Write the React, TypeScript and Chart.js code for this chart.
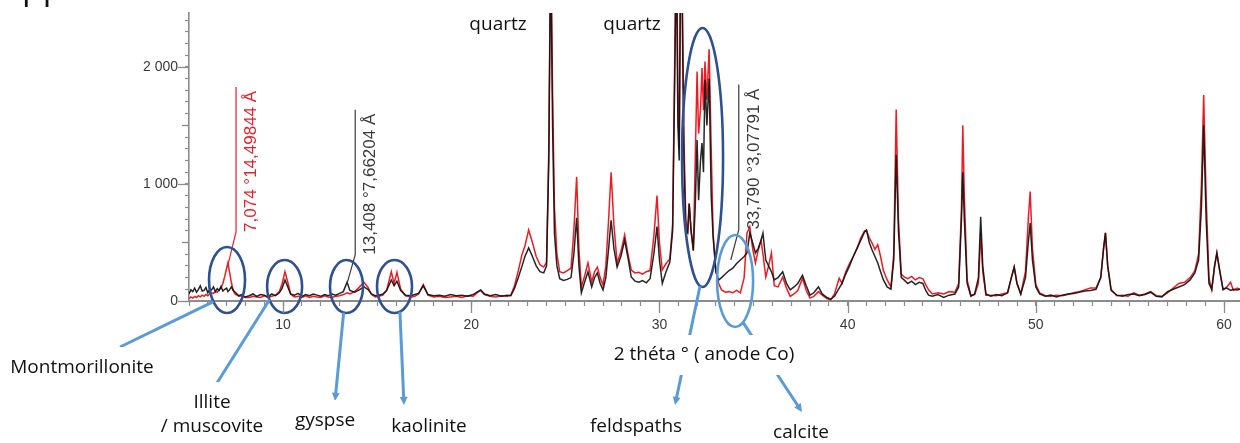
import React, { useEffect, useRef } from 'react';
import { Chart, registerables } from 'chart.js';

Chart.register(...registerables);

// ---------- data (2θ in degrees, intensity in counts) ----------
const twoTheta = [
  5.0, 5.1, 5.2, 5.3, 5.4, 5.5, 5.6, 5.7, 5.8, 5.9, 6.0, 6.1, 6.2, 6.3, 6.4, 6.5, 6.6, 6.7, 6.8, 6.9,
  7.0, 7.07, 7.15, 7.25, 7.35, 7.45, 7.55, 7.65, 7.8, 7.9, 8.0,
  8.2, 8.4, 8.6, 8.8, 9.0, 9.2, 9.4, 9.6, 9.8, 9.95, 10.1, 10.25, 10.4, 10.6, 10.8,
  11.0, 11.2, 11.4, 11.6, 11.8, 12.0, 12.2, 12.4, 12.6, 12.8, 13.0, 13.2, 13.4, 13.55, 13.8,
  14.0, 14.3, 14.5, 14.7, 14.9, 15.1, 15.3, 15.5, 15.75, 15.9, 16.05, 16.25, 16.5, 16.8, 17.0,
  17.2, 17.45, 17.7, 18.0, 18.3, 18.6, 18.9, 19.2, 19.5, 19.8, 20.1, 20.35, 20.5, 20.7, 21.0,
  21.3, 21.6, 21.9,
  22.1, 22.3, 22.5, 22.7, 22.85, 23.05, 23.25, 23.45, 23.65, 23.85, 24.0, 24.12, 24.22, 24.32, 24.42,
  24.55, 24.7, 24.9, 25.1, 25.3, 25.45, 25.6, 25.72, 25.85, 26.0, 26.2, 26.4, 26.55, 26.7, 26.85,
  27.0, 27.15, 27.3, 27.43, 27.58, 27.75, 27.95, 28.15, 28.35, 28.5, 28.7, 28.9, 29.1, 29.3, 29.5,
  29.7, 29.87, 30.0, 30.15,
  30.35, 30.55, 30.7, 30.82, 30.9, 30.98, 31.05, 31.12, 31.2, 31.3, 31.4, 31.5, 31.58, 31.68, 31.8,
  31.9, 32.0, 32.08, 32.18, 32.26, 32.34, 32.42, 32.52, 32.64, 32.75, 32.85, 33.0, 33.15, 33.3, 33.5,
  33.7, 33.9, 34.1, 34.3, 34.5, 34.65, 34.8, 34.95, 35.1, 35.25, 35.4, 35.5, 35.65, 35.8, 35.95,
  36.1, 36.3, 36.55, 36.75, 36.95, 37.15, 37.35, 37.6, 37.8, 38.0, 38.2, 38.45, 38.65, 38.9, 39.1,
  39.3, 39.55, 39.7, 39.9, 40.1, 40.3, 40.5, 40.7, 40.9, 41.0, 41.15, 41.3, 41.45, 41.6, 41.75,
  41.9, 42.1, 42.3, 42.45, 42.58, 42.7, 42.85, 43.0, 43.2, 43.4, 43.6, 43.8, 44.0, 44.15, 44.3,
  44.5, 44.8, 45.1, 45.4, 45.7, 45.9, 46.05, 46.12, 46.2, 46.35, 46.55, 46.75, 46.95, 47.07, 47.18,
  47.35, 47.6, 47.9, 48.2, 48.5, 48.7, 48.85, 49.0, 49.2, 49.45, 49.6, 49.7, 49.82, 50.0, 50.2,
  50.5, 50.8, 51.1, 51.4, 51.7, 52.0, 52.3, 52.6, 52.9, 53.2, 53.45, 53.6, 53.7, 53.82, 54.0,
  54.3, 54.6, 54.9, 55.2, 55.5, 55.8, 56.1, 56.4, 56.7, 57.0, 57.3, 57.6, 57.9, 58.2, 58.45,
  58.65, 58.8, 58.92, 59.05, 59.2, 59.35, 59.5, 59.62, 59.78, 59.95, 60.15, 60.35, 60.5, 60.7, 60.85,
];

const countsBlack = [
  60, 95, 80, 110, 75, 100, 130, 85, 90, 115, 70, 100, 95, 120, 80, 105, 90, 125, 85, 100,
  110, 80, 95, 120, 90, 75, 60, 45, 55, 40, 35,
  45, 60, 40, 55, 50, 35, 60, 45, 70, 110, 180, 120, 60, 50, 65,
  40, 55, 45, 60, 50, 40, 55, 45, 60, 50, 65, 80, 160, 90, 75,
  90, 120, 100, 60, 45, 50, 60, 90, 180, 130, 170, 90, 50, 45, 55,
  65, 130, 55, 45, 50, 40, 55, 45, 50, 40, 55, 80, 95, 60, 45,
  55, 40, 50,
  45, 110, 200, 300, 380, 453, 380, 300, 250, 240, 300, 1200, 3000, 1500, 580,
  300, 190, 175, 185, 200, 400, 710, 300, 70, 150, 250, 120, 200, 240, 150,
  95, 200, 450, 690, 450, 290, 380, 520, 350, 205, 170, 160, 175, 155, 190,
  400, 635, 350, 150,
  250, 330, 600, 2000, 3000, 1500, 1200, 2800, 2600, 1200, 600, 580, 830, 600, 430,
  800, 1375, 860, 1200, 1350, 1100, 1890, 1500, 1900, 900, 550, 250, 180, 200, 230,
  260, 280, 320, 350, 380, 410, 580, 500, 410, 450, 520, 580, 350, 300, 250,
  180, 200, 250, 150, 95, 120, 150, 220, 130, 50, 70, 120, 60, 30, 15,
  40, 110, 150, 230, 300, 380, 450, 520, 590, 605, 500, 435, 380, 325, 250,
  180, 120, 100, 350, 1250, 600, 200, 180, 150, 170, 140, 160, 150, 90, 50,
  40, 55, 30, 50, 60, 120, 700, 1100, 700, 150, 40, 60, 200, 720, 300,
  60, 40, 55, 45, 70, 200, 290, 150, 60, 200, 500, 665, 350, 120, 60,
  40, 50, 35, 50, 60, 65, 75, 85, 90, 100, 200, 450, 580, 300, 90,
  50, 40, 55, 60, 45, 55, 75, 40, 35, 80, 100, 120, 140, 180, 240,
  350, 800, 1500, 700, 150, 100, 300, 410, 250, 100, 110, 90, 100, 95, 100,
];

const countsRed = [
  20, 35, 25, 40, 30, 45, 35, 50, 40, 55, 45, 60, 70, 65, 80, 75, 95, 110, 150, 210,
  280, 325, 250, 160, 90, 60, 50, 40, 45, 35, 30,
  30, 40, 35, 30, 45, 30, 40, 50, 80, 150, 250, 160, 60, 35, 40,
  30, 45, 30, 40, 35, 30, 45, 35, 30, 40, 45, 55, 70, 60, 80,
  110, 160, 120, 55, 35, 40, 50, 90, 250, 150, 245, 100, 45, 35, 40,
  60, 140, 50, 35, 40, 30, 35, 40, 30, 45, 40, 75, 90, 55, 40,
  35, 45, 40,
  50, 130, 260, 400, 470, 607, 500, 380, 310, 290, 330, 1300, 3200, 1800, 800,
  400, 250, 240, 260, 280, 600, 1060, 450, 120, 200, 325, 165, 250, 290, 200,
  135, 300, 700, 1100, 650, 325, 420, 565, 380, 265, 240, 245, 230, 250, 260,
  550, 900, 500, 265,
  320, 360, 650, 2200, 3300, 1800, 1300, 3000, 2900, 1400, 700, 580, 835, 600, 435,
  1200, 1960, 1430, 1630, 1990, 1630, 2045, 1720, 2150, 1300, 580, 250, 150, 95, 75,
  80, 70, 90, 70, 200, 580, 635, 450, 325, 435, 520, 400, 205, 300, 410,
  130, 120, 205, 110, 40, 60, 90, 195, 90, 25, 40, 80, 50, 20, 10,
  60, 195, 150, 250, 320, 380, 450, 540, 600, 605, 540, 495, 440, 480, 380,
  260, 180, 120, 400, 1635, 700, 230, 205, 190, 210, 180, 200, 190, 140, 95,
  60, 70, 60, 80, 75, 150, 800, 1500, 900, 180, 50, 55, 150, 580, 250,
  50, 50, 45, 60, 70, 200, 290, 150, 60, 250, 700, 935, 450, 140, 70,
  45, 40, 50, 45, 55, 70, 80, 95, 110, 110, 200, 450, 585, 300, 100,
  45, 50, 40, 70, 50, 60, 80, 45, 40, 70, 110, 150, 160, 200, 260,
  400, 1000, 1760, 900, 200, 95, 300, 410, 250, 95, 120, 160, 90, 110, 100,
];

// axis ticks
const xTickValues = [10, 20, 30, 40, 50, 60];
const xTickLabels = ['10', '20', '30', '40', '50', '60'];
const yTickValues = [0, 1000, 2000];
const yTickLabels = ['0', '1 000', '2 000'];

// peak d-spacing annotations
const peakLabels = ['7,074 °14,49844 Å', '13,408 °7,66204 Å', '33,790 °3,07791 Å'];
const peakTheta = [7.074, 13.408, 33.79];
const peakAnchorCounts = [310, 155, 350];
const peakStemBottomCounts = [590, 395, 610];
const peakColors = ['#e8202a', '#3a3a3a', '#3a3a3a'];

// mineral circles
const mineralNames = ['Montmorillonite', 'Illite\n/ muscovite', 'gyspse', 'kaolinite', 'feldspaths', 'calcite'];
const mineralTheta = [7.02, 10.08, 13.37, 15.92, 32.29, 34.02];
const mineralCounts = [180, 124, 124, 124, 1226, 171];

// ---------- styles / layout ----------
const RED = '#ec1c24';
const BLACK = 'rgba(18,18,18,0.92)';
const AXIS = '#8c8c8c';
const DARK_BLUE = '#2f5190';
const LIGHT_BLUE = '#5b9bd5';
const LABEL_FONT = '19px "Open Sans", sans-serif';
const ANNOT_FONT = '17px "Liberation Sans", Arial, sans-serif';

const ellipseStyle = [
  { rx: 18, ry: 33, color: DARK_BLUE, startDeg: 139, end: [120, 347], head: false },
  { rx: 17.5, ry: 26.5, color: DARK_BLUE, startDeg: 150, end: [217, 383], head: false },
  { rx: 16.5, ry: 26.5, color: DARK_BLUE, startDeg: 100, end: [335, 401], head: true },
  { rx: 17.5, ry: 26.5, color: DARK_BLUE, startDeg: 72, end: [404, 405], head: true },
  { rx: 20.5, ry: 129.5, color: DARK_BLUE, startDeg: 97, end: [675, 405], head: true },
  { rx: 18, ry: 46, color: LIGHT_BLUE, startDeg: 64, end: [802, 412], head: true },
];
const labelCenters = [
  [82, 368], [212, 403], [325, 421], [429, 427], [636, 427], [801, 433],
];
const axisTitle = '2 théta ° ( anode Co)';
const axisTitleCenter = [704, 355];
const quartzCenters = [[498, 25], [632, 25]];

function drawArrow(ctx: CanvasRenderingContext2D, x1: number, y1: number, x2: number, y2: number, head: boolean) {
  const ang = Math.atan2(y2 - y1, x2 - x1);
  const hl = 9;
  const ex = head ? x2 - Math.cos(ang) * hl * 0.8 : x2;
  const ey = head ? y2 - Math.sin(ang) * hl * 0.8 : y2;
  ctx.beginPath();
  ctx.moveTo(x1, y1);
  ctx.lineTo(ex, ey);
  ctx.stroke();
  if (head) {
    ctx.beginPath();
    ctx.moveTo(x2, y2);
    ctx.lineTo(x2 - hl * Math.cos(ang - 0.45), y2 - hl * Math.sin(ang - 0.45));
    ctx.lineTo(x2 - hl * Math.cos(ang + 0.45), y2 - hl * Math.sin(ang + 0.45));
    ctx.closePath();
    ctx.fill();
  }
}

function drawBoxedText(ctx: CanvasRenderingContext2D, text: string, cx: number, cy: number) {
  const lines = text.split('\n');
  ctx.font = LABEL_FONT;
  const lh = 24;
  const w = Math.max(...lines.map((l) => ctx.measureText(l).width));
  const top = cy - 21;
  const bottom = cy + (lines.length - 1) * lh + 21;
  ctx.fillStyle = '#ffffff';
  ctx.fillRect(cx - w / 2 - 6, top, w + 12, bottom - top);
  ctx.fillStyle = '#111111';
  ctx.textAlign = 'center';
  ctx.textBaseline = 'middle';
  lines.forEach((l, i) => ctx.fillText(l, cx, cy + i * lh));
}

const overlayPlugin = {
  id: 'xrdOverlay',
  afterDatasetsDraw(chart: any) {
    const { ctx } = chart;
    const x = chart.scales.x;
    const y = chart.scales.y;
    ctx.save();
    // peak annotations
    ctx.font = ANNOT_FONT;
    for (let i = 0; i < peakLabels.length; i++) {
      const ax = x.getPixelForValue(peakTheta[i]);
      const ay = y.getPixelForValue(peakAnchorCounts[i]);
      const sx = ax + 8;
      const sb = y.getPixelForValue(peakStemBottomCounts[i]);
      const w = ctx.measureText(peakLabels[i]).width;
      ctx.strokeStyle = peakColors[i];
      ctx.lineWidth = 1.2;
      ctx.beginPath();
      ctx.moveTo(ax, ay);
      ctx.lineTo(sx, sb);
      ctx.lineTo(sx, sb - w - 4);
      ctx.stroke();
      ctx.save();
      ctx.translate(sx + 7, sb);
      ctx.rotate(-Math.PI / 2);
      ctx.fillStyle = peakColors[i];
      ctx.textAlign = 'left';
      ctx.textBaseline = 'top';
      ctx.fillText(peakLabels[i], 0, 0);
      ctx.restore();
    }
    // ellipses
    for (let i = 0; i < mineralNames.length; i++) {
      const s = ellipseStyle[i];
      const cx = x.getPixelForValue(mineralTheta[i]);
      const cy = y.getPixelForValue(mineralCounts[i]);
      ctx.strokeStyle = s.color;
      ctx.lineWidth = 2.6;
      ctx.beginPath();
      ctx.ellipse(cx, cy, s.rx, s.ry, 0, 0, Math.PI * 2);
      ctx.stroke();
    }
    ctx.restore();
  },
  afterDraw(chart: any) {
    const { ctx, chartArea } = chart;
    const x = chart.scales.x;
    const y = chart.scales.y;
    ctx.save();
    // longer ticks
    ctx.strokeStyle = AXIS;
    ctx.lineWidth = 1.3;
    for (let v = 0; v <= 2400; v += 500) {
      const py = Math.round(y.getPixelForValue(v)) + 0.5;
      const len = v % 1000 === 0 ? 11 : 7;
      ctx.beginPath();
      ctx.moveTo(chartArea.left - len, py);
      ctx.lineTo(chartArea.left, py);
      ctx.stroke();
    }
    for (let v = 10; v <= 60; v += 10) {
      const px = Math.round(x.getPixelForValue(v)) + 0.5;
      ctx.beginPath();
      ctx.moveTo(px, chartArea.bottom);
      ctx.lineTo(px, chartArea.bottom + 12);
      ctx.stroke();
    }
    // arrows from ellipses to labels
    ctx.strokeStyle = LIGHT_BLUE;
    ctx.fillStyle = LIGHT_BLUE;
    ctx.lineWidth = 3;
    for (let i = 0; i < mineralNames.length; i++) {
      const s = ellipseStyle[i];
      const cx = x.getPixelForValue(mineralTheta[i]);
      const cy = y.getPixelForValue(mineralCounts[i]);
      const t = (s.startDeg * Math.PI) / 180;
      const sxp = cx + s.rx * Math.cos(t);
      const syp = cy + s.ry * Math.sin(t);
      drawArrow(ctx, sxp, syp, s.end[0], s.end[1], s.head);
    }
    // labels with white boxes
    for (let i = 0; i < mineralNames.length; i++) {
      drawBoxedText(ctx, mineralNames[i], labelCenters[i][0], labelCenters[i][1]);
    }
    ctx.font = LABEL_FONT;
    const tw = ctx.measureText(axisTitle).width;
    ctx.fillStyle = '#ffffff';
    ctx.fillRect(axisTitleCenter[0] - tw / 2 - 8, axisTitleCenter[1] - 20, tw + 16, 40);
    ctx.fillStyle = '#111111';
    ctx.textAlign = 'center';
    ctx.textBaseline = 'middle';
    ctx.fillText(axisTitle, axisTitleCenter[0], axisTitleCenter[1]);
    quartzCenters.forEach(([qx, qy]) => ctx.fillText('quartz', qx, qy));
    // cut-off text from above
    ctx.font = '34px "Open Sans", sans-serif';
    ctx.textAlign = 'left';
    ctx.textBaseline = 'alphabetic';
    ctx.fillText('pp', 22, -1);
    ctx.restore();
  },
};

export default function App() {
  const ref = useRef<HTMLCanvasElement>(null);
  useEffect(() => {
    document.body.style.margin = '0';
    const canvas = ref.current;
    if (!canvas) return;
    const toPts = (ys: number[]) => twoTheta.map((t, i) => ({ x: t, y: ys[i] }));
    const tickFont = { family: '"Liberation Sans", Arial, sans-serif', size: 14 };
    const chart = new Chart(canvas, {
      type: 'line',
      data: {
        datasets: [
          { label: 'échantillon noir', data: toPts(countsBlack), borderColor: BLACK, borderWidth: 1.5, pointRadius: 0, tension: 0 },
          { label: 'échantillon rouge', data: toPts(countsRed), borderColor: RED, borderWidth: 1.5, pointRadius: 0, tension: 0 },
        ],
      },
      options: {
        animation: false,
        responsive: false,
        maintainAspectRatio: false,
        layout: { padding: { top: 13, left: 0, right: 0, bottom: 0 } },
        plugins: { legend: { display: false }, tooltip: { enabled: false } },
        scales: {
          x: {
            type: 'linear',
            min: 5,
            max: 60.85,
            afterFit: (s: any) => { s.height = 142; s.paddingLeft = 0; s.paddingRight = 0; },
            afterBuildTicks: (s: any) => {
              const t: any[] = [];
              for (let v = 5; v <= 60; v++) t.push({ value: v });
              s.ticks = t;
            },
            ticks: {
              stepSize: 1,
              autoSkip: false,
              maxRotation: 0,
              padding: 11,
              color: '#3a3a3a',
              font: tickFont,
              callback: (v: any) => {
                const k = xTickValues.indexOf(Math.round(Number(v)));
                return k >= 0 ? xTickLabels[k] : '';
              },
            },
            grid: { drawOnChartArea: false, tickLength: 5, tickColor: AXIS, tickWidth: 1.2 },
            border: { color: AXIS, width: 2 },
          },
          y: {
            min: 0,
            max: 2460,
            afterFit: (s: any) => { s.width = 189; s.paddingTop = 0; s.paddingBottom = 0; },
            afterBuildTicks: (s: any) => {
              const t: any[] = [];
              for (let v = 0; v <= 2400; v += 100) t.push({ value: v });
              s.ticks = t;
            },
            ticks: {
              stepSize: 100,
              autoSkip: false,
              padding: 7,
              color: '#3a3a3a',
              font: tickFont,
              callback: (v: any) => {
                const k = yTickValues.indexOf(Math.round(Number(v)));
                return k >= 0 ? yTickLabels[k] : '';
              },
            },
            grid: { drawOnChartArea: false, tickLength: 4, tickColor: AXIS, tickWidth: 1.2 },
            border: { color: AXIS, width: 1.6 },
          },
        },
      },
      plugins: [overlayPlugin],
    });
    return () => chart.destroy();
  }, []);
  return (
    <div style={{ width: 1240, height: 443, background: '#ffffff' }}>
      <canvas ref={ref} width={1240} height={443} style={{ display: 'block' }} />
    </div>
  );
}
